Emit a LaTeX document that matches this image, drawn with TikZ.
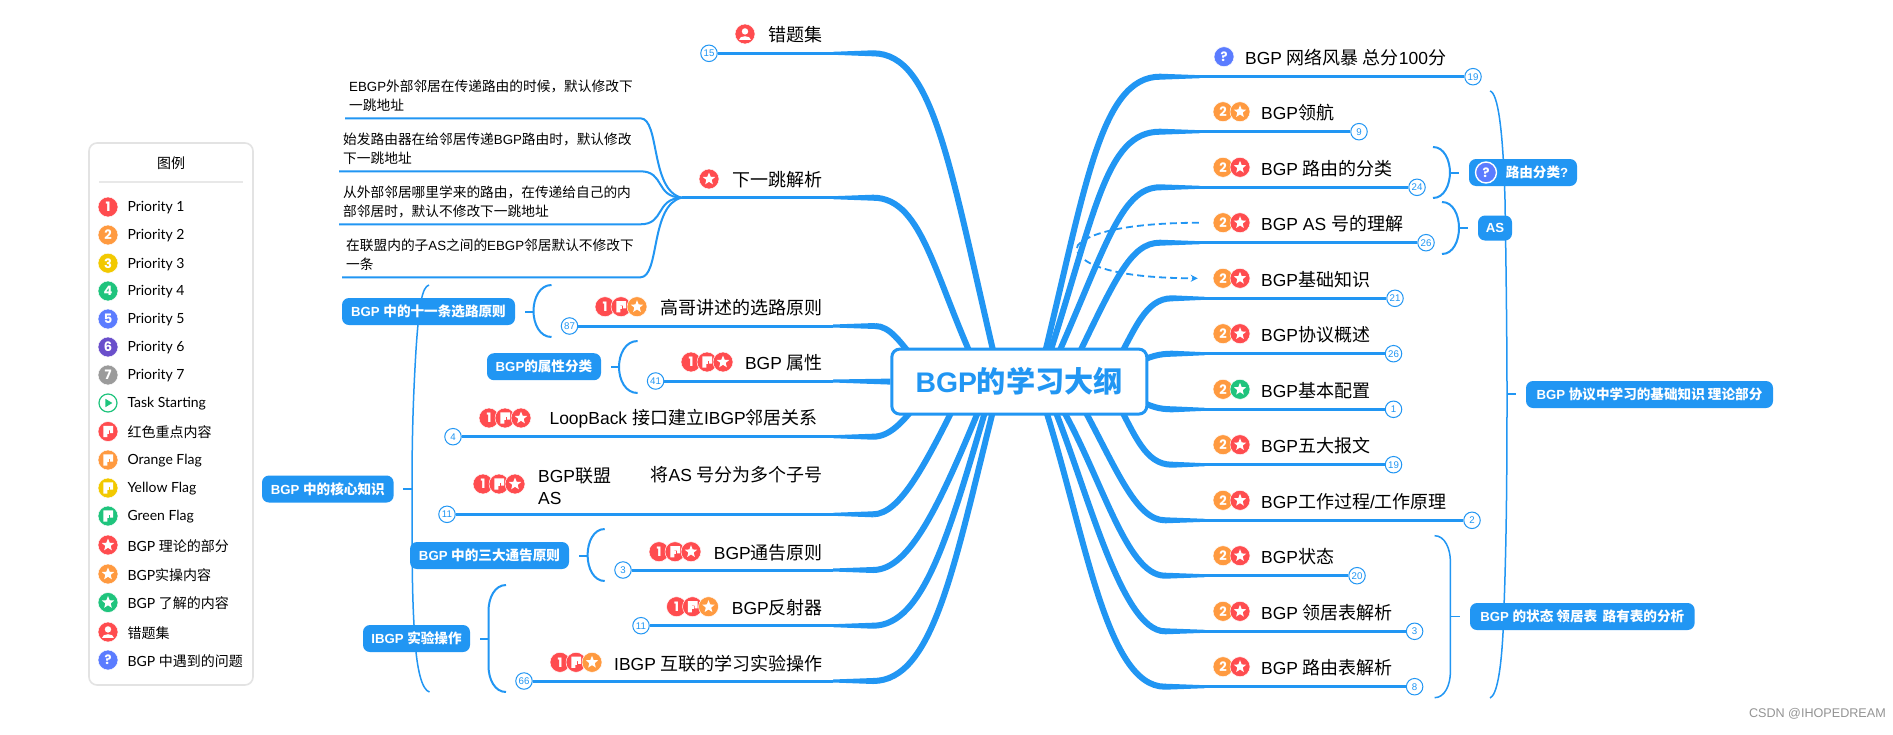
\documentclass[tikz,border=0pt]{standalone}
\usepackage{fontspec}
\usetikzlibrary{shapes.geometric,arrows.meta,backgrounds}
\setmainfont{Liberation Sans}[Scale=0.97]
\newfontfamily\cjkf{Noto Sans CJK SC}
\newfontfamily\latf{Liberation Sans}[Scale=0.97]
\newfontfamily\legf{Lato}
\newfontfamily\digf{Poppins}
\newXeTeXintercharclass\cjkcls
\XeTeXinterchartokenstate=1
\newcount\cc \cc="4E00
\loop \XeTeXcharclass\cc=\cjkcls \ifnum\cc<"9FFF \advance\cc 1 \repeat
\XeTeXcharclass"FF0C=\cjkcls
\XeTeXinterchartoks 0 \cjkcls={\cjkf}
\XeTeXinterchartoks 4095 \cjkcls={\cjkf}
\XeTeXinterchartoks \cjkcls 0={\latf}
\definecolor{mb}{HTML}{2196F3}
\definecolor{cr}{HTML}{FF4C4F}
\definecolor{co}{HTML}{FF9A40}
\definecolor{cy}{HTML}{F2C900}
\definecolor{cg}{HTML}{1FC47D}
\definecolor{cb}{HTML}{5B7CFF}
\definecolor{cp}{HTML}{6A4FCB}
\definecolor{cq}{HTML}{9B9B9B}
\tikzset{
 disc/.style={circle,minimum size=20,inner sep=0,draw=white,line width=.5},
 starm/.style={star,star points=5,star point ratio=2.3,fill=white,inner sep=0,minimum size=13},
 digit/.style={text=white,inner sep=0,font=\digf\bfseries\fontsize{13}{13}\selectfont},
 title/.style={anchor=east,inner sep=0,yshift=-1pt,font=\fontsize{18}{22}\selectfont},
 titler/.style={anchor=west,inner sep=0,yshift=-1pt,font=\fontsize{18}{22}\selectfont},
 numc/.style={circle,draw=mb,line width=1,fill=white,minimum size=16.5,inner sep=0,text=mb,font=\fontsize{10}{10}\selectfont},
 leaf/.style={anchor=south west,inner xsep=4,inner ysep=0,align=left,minimum height=44,font=\fontsize{13.7}{19}\selectfont},
 leafl/.style={mb,line width=2},
 thinb/.style={mb,line width=3},
 thickb/.style={mb,line width=6},
 lbl/.style={rounded corners=7,fill=mb,text=white,inner sep=0,minimum height=27,font=\bfseries\fontsize{13.6}{14}\selectfont},
 brk/.style={mb,line width=2},
 brkt/.style={mb,line width=1.5},
 legtxt/.style={anchor=west,inner sep=0,yshift=-1pt,font=\legf\fontsize{14}{16}\selectfont},
}
\newcommand\numc[4]{\node[numc] (#1) at (#2,#3) {#4};}
\newcommand\icD[5]{\node[disc,fill=#4] (#1) at (#2,#3) {}; \node[digit] (#1m) at (#1) {#5};}
\newcommand\icS[4]{\node[disc,fill=#4] (#1) at (#2,#3) {}; \node[starm] (#1m) at (#1) {};}
\newcommand\icF[4]{\node[disc,fill=#4] (#1) at (#2,#3) {};
 \fill[white,shift={(#1.center)}] (-4.6,-5.6) -- (5.2,-5.6) -- (5.2,1.6) -- (2,1.6) -- (2,-1.2) -- (-.6,-1.2) -- (-.6,5.6) -- (-4.6,5.6) -- cycle;
 \fill[white,shift={(#1.center)}] (-.6,-1.2) rectangle (1.2,2.2);}
\newcommand\icP[4]{\node[disc,fill=#4] (#1) at (#2,#3) {};
 \fill[white,shift={(#1.center)}] (0,-2.6) circle (3.2);
 \fill[white,shift={(#1.center)}] (-5.6,5.6) .. controls (-5.6,1) and (5.6,1) .. (5.6,5.6) -- cycle;}
\newcommand\icQ[4]{\node[disc,fill=#4] (#1) at (#2,#3) {}; \node[digit] (#1m) at (#1) {?};}
\newcommand\icT[3]{\node[disc,fill=white,draw=cg,line width=1.2,minimum size=18] (#1) at (#2,#3) {};
 \fill[cg,shift={(#1.center)}] (-2.6,-4.2) -- (4.4,0) -- (-2.6,4.2) -- cycle;}
\newcommand\legt[3]{\node[legtxt] (#1) at (127.3,#2) {#3};}
% circle anchor, y, taper start x, wedge end x, c1x, c2x, c2y, ex, ey
\newcommand\brch[9]{
 \draw[thinb] (#1) -- (#3,#2);
 \fill[mb] (#3,#2-1.5) -- (#4,#2-3) -- (#4,#2+3) -- (#3,#2+1.5) -- cycle;
 \draw[thickb] (#4,#2) .. controls (#5,#2) and (#6,#7) .. (#8,#9);
}
% end x, mid x, stem x, top y, mid y, bottom y, style
\newcommand\brk[7]{
 \coordinate (bt) at (#1,#4); \coordinate (bb) at (#1,#6);
 \coordinate (bm) at (#2,#5); \coordinate (bs) at (#3,#5);
 \draw[#7] (bt) .. controls ({#2+.35*(#1-#2)},#4) and (#2,#4+13) .. (#2,#4+26) -- (bm) -- (#2,#6-26) .. controls (#2,#6-13) and ({#2+.35*(#1-#2)},#6) .. (bb);
 \draw[#7] (bm) -- (bs);
}
\begin{document}
\begin{tikzpicture}[x=1pt,y=-1pt]
\useasboundingbox (0,0) rectangle (1893,734);
% root
\node[draw=mb,line width=3,fill=white,rounded corners=8,minimum width=255,minimum height=65,inner sep=0,text=mb,font=\bfseries\fontsize{29.2}{32}\selectfont] (root) at (1019.3,381.6) {BGP的学习大纲};
% legend
\node[draw=black!11,line width=1.6,fill=white,rounded corners=8,minimum width=164,minimum height=542,inner sep=0] (legend) at (171,414) {};
\node[inner sep=0,font=\fontsize{14}{16}\selectfont] (legtitle) at (171,163.5) {图例};
\coordinate (rl) at (99,182); \coordinate (rr) at (243,182);
\draw[black!9,line width=2] (rl) -- (rr);
\icD{l1}{108}{207}{cr}{1} \legt{lt1}{207}{Priority 1}
\icD{l2}{108}{235}{co}{2} \legt{lt2}{235}{Priority 2}
\icD{l3}{108}{263.2}{cy}{3} \legt{lt3}{263.2}{Priority 3}
\icD{l4}{108}{291}{cg}{4} \legt{lt4}{291}{Priority 4}
\icD{l5}{108}{319}{cb}{5} \legt{lt5}{319}{Priority 5}
\icD{l6}{108}{347}{cp}{6} \legt{lt6}{347}{Priority 6}
\icD{l7}{108}{375}{cq}{7} \legt{lt7}{375}{Priority 7}
\icT{l8}{108}{403} \legt{lt8}{403}{Task Starting}
\icF{l9}{108}{431.5}{cr} \legt{lt9}{431.5}{红色重点内容}
\icF{l10}{108}{460}{co} \legt{lt10}{460}{Orange Flag}
\icF{l11}{108}{488}{cy} \legt{lt11}{488}{Yellow Flag}
\icF{l12}{108}{516}{cg} \legt{lt12}{516}{Green Flag}
\icS{l13}{108}{545}{cr} \legt{lt13}{545}{BGP 理论的部分}
\icS{l14}{108}{574}{co} \legt{lt14}{574}{BGP实操内容}
\icS{l15}{108}{602.5}{cg} \legt{lt15}{602.5}{BGP 了解的内容}
\icP{l16}{108}{632}{cr} \legt{lt16}{632}{错题集}
\icQ{l17}{108}{660}{cb} \legt{lt17}{660}{BGP 中遇到的问题}
% left titles
\icP{a1}{745}{34}{cr} \node[title] (ta1) at (823,34) {错题集};
\numc{ca1}{709}{53.3}{15}
\icS{a2}{709}{179}{cr} \node[title] (ta2) at (823,179) {下一跳解析};
\coordinate (hub) at (681.6,197.7);
\node[leaf,minimum width=295,text width=287] (t1) at (345,118.3) {EBGP外部邻居在传递路由的时候，默认修改下\\一跳地址};
\node[leaf,minimum width=301,text width=293] (t2) at (339,171.3) {始发路由器在给邻居传递BGP路由时，默认修改\\下一跳地址};
\node[leaf,minimum width=301,text width=293] (t3) at (339,224.3) {从外部邻居哪里学来的路由，在传递给自己的内\\部邻居时，默认不修改下一跳地址};
\node[leaf,minimum width=298,text width=290] (t4) at (342,277.3) {在联盟内的子AS之间的EBGP邻居默认不修改下\\一条};
\icD{a3}{605}{306.7}{cr}{1} \icF{a3b}{621}{306.7}{cr} \icS{a3c}{637}{306.7}{co}
\node[title] (ta3) at (823,306.7) {高哥讲述的选路原则}; \numc{ca3}{569.5}{326}{87}
\icD{a4}{691}{362}{cr}{1} \icF{a4b}{707}{362}{cr} \icS{a4c}{723}{362}{cr}
\node[title] (ta4) at (823,362) {BGP 属性}; \numc{ca4}{655.6}{381}{41}
\icD{a5}{489}{418}{cr}{1} \icF{a5b}{505}{418}{cr} \icS{a5c}{521}{418}{cr}
\node[title] (ta5) at (818,418) {LoopBack 接口建立IBGP邻居关系}; \numc{ca5}{453}{436.7}{4}
\icD{a6}{483}{484}{cr}{1} \icF{a6b}{499}{484}{cr} \icS{a6c}{515}{484}{cr}
\node[titler,align=left,font=\fontsize{18}{22}\selectfont] (ta6) at (538,485) {BGP联盟\\AS};
\node[title] (ta6b) at (823,474) {将AS 号分为多个子号}; \numc{ca6}{447}{514.3}{11}
\icD{a7}{659}{551.7}{cr}{1} \icF{a7b}{675}{551.7}{cr} \icS{a7c}{691}{551.7}{cr}
\node[title] (ta7) at (823,551.7) {BGP通告原则}; \numc{ca7}{623}{570}{3}
\icD{a8}{676.5}{606.7}{cr}{1} \icF{a8b}{692.5}{606.7}{cr} \icS{a8c}{708.5}{606.7}{co}
\node[title] (ta8) at (823,606.7) {BGP反射器}; \numc{ca8}{641}{625.7}{11}
\icD{a9}{560}{662.3}{cr}{1} \icF{a9b}{576}{662.3}{cr} \icS{a9c}{592}{662.3}{co}
\node[title] (ta9) at (823,662.3) {IBGP 互联的学习实验操作}; \numc{ca9}{524}{681}{66}
% left labels
\node[lbl,minimum width=173] (b1) at (428.5,311.5) {BGP 中的十一条选路原则};
\node[lbl,minimum width=114] (b2) at (544,366.7) {BGP的属性分类};
\node[lbl,minimum width=131.6] (b3) at (327.8,489) {BGP 中的核心知识};
\node[lbl,minimum width=159] (b4) at (489.5,555.5) {BGP 中的三大通告原则};
\node[lbl,minimum width=107] (b5) at (416.5,638.5) {IBGP 实验操作};
% right titles
\icQ{r1}{1224}{56.7}{cb} \node[titler] (tr1) at (1245,56.7) {BGP 网络风暴 总分100分}; \numc{cr1}{1473}{76.7}{19}
\icD{r2}{1223}{111.7}{co}{2} \icS{r2b}{1240}{111.7}{co} \node[titler] (tr2) at (1261,111.7) {BGP领航}; \numc{cr2}{1359}{131.7}{9}
\icD{r3}{1223}{167.3}{co}{2} \icS{r3b}{1240}{167.3}{cr} \node[titler] (tr3) at (1261,167.3) {BGP 路由的分类}; \numc{cr3}{1417}{187.3}{24}
\icD{r4}{1223}{222.7}{co}{2} \icS{r4b}{1240}{222.7}{cr} \node[titler] (tr4) at (1261,222.7) {BGP AS 号的理解}; \numc{cr4}{1426}{242.7}{26}
\icD{r5}{1223}{278.3}{co}{2} \icS{r5b}{1240}{278.3}{cr} \node[titler] (tr5) at (1261,278.3) {BGP基础知识}; \numc{cr5}{1395}{298.3}{21}
\icD{r6}{1223}{333.7}{co}{2} \icS{r6b}{1240}{333.7}{cr} \node[titler] (tr6) at (1261,333.7) {BGP协议概述}; \numc{cr6}{1393.5}{353.7}{26}
\icD{r7}{1223}{389.3}{co}{2} \icS{r7b}{1240}{389.3}{cg} \node[titler] (tr7) at (1261,389.3) {BGP基本配置}; \numc{cr7}{1393.5}{409.3}{1}
\icD{r8}{1223}{444.7}{co}{2} \icS{r8b}{1240}{444.7}{cr} \node[titler] (tr8) at (1261,444.7) {BGP五大报文}; \numc{cr8}{1393.5}{464.7}{19}
\icD{r9}{1223}{500.3}{co}{2} \icS{r9b}{1240}{500.3}{cr} \node[titler] (tr9) at (1261,500.3) {BGP工作过程/工作原理}; \numc{cr9}{1472}{520.3}{2}
\icD{r10}{1223}{555.7}{co}{2} \icS{r10b}{1240}{555.7}{cr} \node[titler] (tr10) at (1261,555.7) {BGP状态}; \numc{cr10}{1357}{575.7}{20}
\icD{r11}{1223}{611.3}{co}{2} \icS{r11b}{1240}{611.3}{cr} \node[titler] (tr11) at (1261,611.3) {BGP 领居表解析}; \numc{cr11}{1414.6}{631.3}{3}
\icD{r12}{1223}{666.7}{co}{2} \icS{r12b}{1240}{666.7}{cr} \node[titler] (tr12) at (1261,666.7) {BGP 路由表解析}; \numc{cr12}{1414.6}{686.7}{8}
% right labels
\node[lbl,minimum width=108] (c1) at (1523,172.5) {\hspace*{28pt}路由分类?};
\node[disc,fill=cb,draw=white,line width=1.4,minimum size=21] (c1i) at (1486,172.5) {};
\node[digit] (c1m) at (c1i) {?};
\node[lbl,minimum width=34,minimum height=25] (c2) at (1495,228) {AS};
\node[lbl,minimum width=247] (c3) at (1649.5,394.5) {BGP 协议中学习的基础知识 理论部分};
\node[lbl,minimum width=224.6] (c4) at (1582.3,616.5) {BGP 的状态 领居表 \,路有表的分析};
\node[anchor=east,inner sep=0,text=black!42,font=\fontsize{13}{14}\selectfont] (wm) at (1886,713.5) {CSDN @IHOPEDREAM};
\begin{pgfonlayer}{background}
\fill[white] (0,0) rectangle (1893,734);
% left branches
\brch{ca1.east}{53.3}{833}{873}{935}{950}{170}{1000}{380}
\brch{hub}{197.7}{833}{873}{925}{935}{285}{985}{385}
\brch{ca3.east}{326}{833}{875}{890}{900}{342}{915}{360}
\draw[thinb] (ca4.east) -- (833,381);
\fill[mb] (833,379.5) -- ([yshift=3pt]root.west) -- ([yshift=-3pt]root.west) -- (833,382.5) -- cycle;
\brch{ca5.east}{436.7}{833}{873}{890}{903}{422}{920}{400}
\brch{ca6.east}{514.3}{833}{873}{900}{925}{465}{960}{395}
\brch{ca7.east}{570}{833}{873}{910}{940}{505}{985}{395}
\brch{ca8.east}{625.7}{833}{873}{925}{950}{530}{990}{395}
\brch{ca9.east}{681}{833}{873}{935}{955}{560}{997}{395}
% right branches
\brch{cr1.west}{76.7}{1200}{1160}{1100}{1085}{190}{1042}{365}
\brch{cr2.west}{131.7}{1200}{1160}{1105}{1095}{215}{1046}{365}
\brch{cr3.west}{187.3}{1200}{1160}{1120}{1105}{250}{1052}{368}
\brch{cr4.west}{242.7}{1200}{1160}{1130}{1115}{280}{1072}{368}
\brch{cr5.west}{298.3}{1205}{1172}{1145}{1135}{330}{1115}{365}
\brch{cr6.west}{353.7}{1205}{1172}{1160}{1150}{356}{1135}{364}
\brch{cr7.west}{409.3}{1205}{1172}{1160}{1150}{407}{1135}{398}
\brch{cr8.west}{464.7}{1205}{1172}{1145}{1135}{435}{1115}{398}
\brch{cr9.west}{520.3}{1205}{1165}{1135}{1115}{465}{1078}{398}
\brch{cr10.west}{575.7}{1205}{1165}{1125}{1100}{470}{1056}{398}
\brch{cr11.west}{631.3}{1205}{1165}{1120}{1085}{480}{1050}{398}
\brch{cr12.west}{686.7}{1205}{1165}{1105}{1085}{530}{1042}{398}
% leaves
\draw[leafl] (t1.south west) -- (t1.south east) .. controls (660,118.3) and (650,190) .. (hub);
\draw[leafl] (t2.south west) -- (t2.south east) .. controls (665,171.3) and (655,197) .. (hub);
\draw[leafl] (t3.south west) -- (t3.south east) .. controls (665,224.3) and (655,199) .. (hub);
\draw[leafl] (t4.south west) -- (t4.south east) .. controls (660,277.3) and (650,205) .. (hub);
% brackets
\brk{551.5}{533.5}{525}{285}{311.5}{337}{brk}
\brk{637.6}{619}{611}{341}{367}{393}{brk}
\brk{604.7}{587.6}{579}{529}{555.7}{581}{brk}
\brk{506}{488.5}{480}{585}{638.5}{692}{brk}
\brk{1433}{1450}{1459}{147}{172.5}{198}{brk}
\brk{1442}{1459}{1468}{202}{228}{254}{brk}
\brk{1434.6}{1450.4}{1460}{535.7}{616.5}{697.7}{brkt}
\coordinate (ct) at (429,285); \coordinate (cm) at (412,489); \coordinate (cb2) at (429.5,692); \coordinate (cs) at (403,489);
\draw[brkt] (ct) .. controls (422,287) and (419,305) .. (416,350) .. controls (413,400) and (412,440) .. (cm) .. controls (412,560) and (412,600) .. (415,640) .. controls (417,670) and (422,690) .. (cb2);
\draw[brkt] (cm) -- (cs);
\coordinate (dt) at (1490,91); \coordinate (dm) at (1507,394); \coordinate (db) at (1490,698); \coordinate (ds) at (1516,394);
\draw[brkt] (dt) .. controls (1498,93) and (1503,130) .. (1505,200) .. controls (1506,260) and (1507,340) .. (dm) .. controls (1507,500) and (1506,560) .. (1503,633) .. controls (1501,670) and (1497,695) .. (db);
\draw[brkt] (dm) -- (ds);
% dashed cross link
\draw[mb,line width=1.8,dash pattern=on 7pt off 4pt,-{Stealth[length=7pt,width=7pt]}] ([xshift=-14pt]r4.west) .. controls (1130,223) and (1090,232) .. (1078,245) .. controls (1072,253) and (1085,278) .. ([xshift=-15pt]r5.west);
\end{pgfonlayer}
\end{tikzpicture}
\end{document}
